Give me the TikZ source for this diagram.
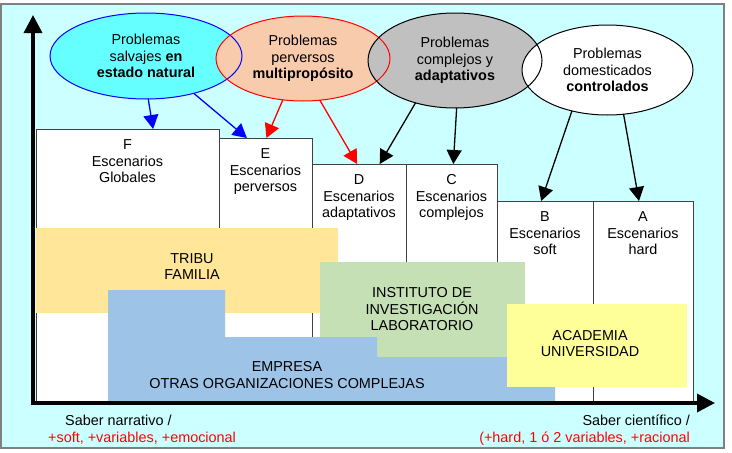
\documentclass[tikz,border=0pt]{standalone}
\usepackage{fontspec}
\setmainfont{Liberation Sans}
\usetikzlibrary{calc, shapes.geometric, arrows.meta, positioning}

\definecolor{fondo}{HTML}{CCFFFF}
\definecolor{marco}{HTML}{808080}
\definecolor{borde}{HTML}{404040}
\definecolor{salvaje}{HTML}{66FFFF}
\definecolor{perverso}{HTML}{F8CBAD}
\definecolor{complejo}{HTML}{C0C0C0}
\definecolor{tribu}{HTML}{FFE699}
\definecolor{instituto}{HTML}{C5E0B4}
\definecolor{empresa}{HTML}{9DC3E6}
\definecolor{academia}{HTML}{FFFF99}

\begin{document}
\begin{tikzpicture}[x=1pt, y=-1pt,
  font=\fontsize{14.4}{16.5}\selectfont,
  problema/.style={ellipse, inner sep=0pt, outer sep=0pt, align=center},
  escenario/.style={draw=borde, line width=0.8pt, fill=white, anchor=north west, inner sep=0pt, outer sep=0pt},
  texto/.style={anchor=north, inner sep=0pt, align=center},
  flecha/.style={line width=1.3pt, -{Triangle[length=14pt, width=15pt]}},
  eje/.style={line width=3.5pt, {Triangle[length=18pt, width=18pt]}-{Triangle[length=18pt, width=18pt]}}]
  \useasboundingbox (0,0) rectangle (732,453);
  \draw[marco, fill=fondo, line width=1.5pt] (1,4) rectangle (724,448);

  % problemas: fills first, borders later
  \node[problema, fill=salvaje, minimum width=192, minimum height=86] (salvajes) at (146,56)
    {Problemas\\salvajes \textbf{en}\\\textbf{estado natural}};
  \node[problema, fill=perverso, minimum width=174, minimum height=85] (perversos) at (303,58.5)
    {Problemas\\perversos\\\textbf{multipropósito}};
  \node[problema, fill=complejo, minimum width=174, minimum height=95] (complejos) at (455,60.5)
    {Problemas\\complejos y\\\textbf{adaptativos}};
  \node[problema, fill=white, minimum width=171, minimum height=90] (domesticados) at (607.5,70)
    {Problemas\\domesticados\\\textbf{controlados}};
  \draw[blue, line width=1pt] (salvajes.center) ellipse [x radius=96, y radius=43];
  \draw[red, line width=1pt] (perversos.center) ellipse [x radius=87, y radius=42.5];
  \draw[line width=1pt] (complejos.center) ellipse [x radius=87, y radius=47.5];
  \draw[line width=1pt] (domesticados.center) ellipse [x radius=85.5, y radius=45];

  % escenarios F ... A
  \node[escenario, minimum width=183, minimum height=274] (F) at (36,129) {};
  \node[escenario, minimum width=93, minimum height=265] (E) at (219,138) {};
  \node[escenario, minimum width=94, minimum height=239] (D) at (312,164) {};
  \node[escenario, minimum width=91, minimum height=239] (C) at (406,164) {};
  \node[escenario, minimum width=96, minimum height=202] (B) at (497,201) {};
  \node[escenario, minimum width=100, minimum height=202] (A) at (593,201) {};
  \node[texto] (Ftxt) at ([yshift=-10.5pt]F.north) {F\\Escenarios\\Globales};
  \node[texto] (Etxt) at ([yshift=-10.5pt]E.north) {E\\Escenarios\\perversos};
  \node[texto] (Dtxt) at ([yshift=-10.5pt]D.north) {D\\Escenarios\\adaptativos};
  \node[texto] (Ctxt) at ([yshift=-10.5pt]C.north) {C\\Escenarios\\complejos};
  \node[texto] (Btxt) at ([yshift=-10.5pt]B.north) {B\\Escenarios\\soft};
  \node[texto] (Atxt) at ([yshift=-10.5pt]A.north) {A\\Escenarios\\hard};

  % organizaciones
  \fill[tribu] (36,228) rectangle (338,313);
  \fill[instituto] (320,262) rectangle (525,357);
  \fill[empresa] (108,290) -- (225,290) -- (225,337) -- (377,337) -- (377,357)
    -- (555,357) -- (555,403) -- (108,403) -- cycle;
  \fill[academia] (507,304) rectangle (687,387);
  \node[align=center, inner sep=0pt] (tribuTxt) at (192,266.5) {TRIBU\\FAMILIA};
  \node[align=center, inner sep=0pt] (institutoTxt) at (422,309.5) {INSTITUTO DE\\INVESTIGACIÓN\\LABORATORIO};
  \node[align=center, inner sep=0pt] (academiaTxt) at (590,343.5) {ACADEMIA\\UNIVERSIDAD};
  \node[align=center, inner sep=0pt] (empresaTxt) at (287,375) {EMPRESA\\OTRAS ORGANIZACIONES COMPLEJAS};

  % flechas
  \draw[flecha, blue] (salvajes.-87) -- ($(F.north west)!0.64!(F.north east)$);
  \draw[flecha, blue] (salvajes.-38) -- ($(E.north west)!0.30!(E.north east)$);
  \draw[flecha, red] (perversos.-116) -- ($(E.north west)!0.51!(E.north east)$);
  \draw[flecha, red] (perversos.-68) -- ($(D.north west)!0.48!(D.north east)$);
  \draw[flecha] (complejos.-133) -- ($(D.north west)!0.72!(D.north east)$);
  \draw[flecha] (complejos.-88) -- ($(C.north west)!0.52!(C.north east)$);
  \draw[flecha] (domesticados.-131) -- ($(B.north west)!0.46!(B.north east)$);
  \draw[flecha] (domesticados.-70) -- ($(A.north west)!0.46!(A.north east)$);

  % ejes
  \coordinate (ejey) at (33,15);
  \coordinate (ejex) at (715,403);
  \draw[eje] (ejey) |- (ejex);
  \node[anchor=base west, inner sep=0pt] (narrativo) at (65,425) {Saber narrativo /};
  \node[anchor=base west, inner sep=0pt, red] (narrativoRojo) at (48,442) {+soft, +variables, +emocional};
  \node[anchor=base east, inner sep=0pt] (cientifico) at (690,425) {Saber científico /};
  \node[anchor=base east, inner sep=0pt, red] (cientificoRojo) at (690,442) {(+hard, 1 ó 2 variables, +racional};
\end{tikzpicture}
\end{document}
